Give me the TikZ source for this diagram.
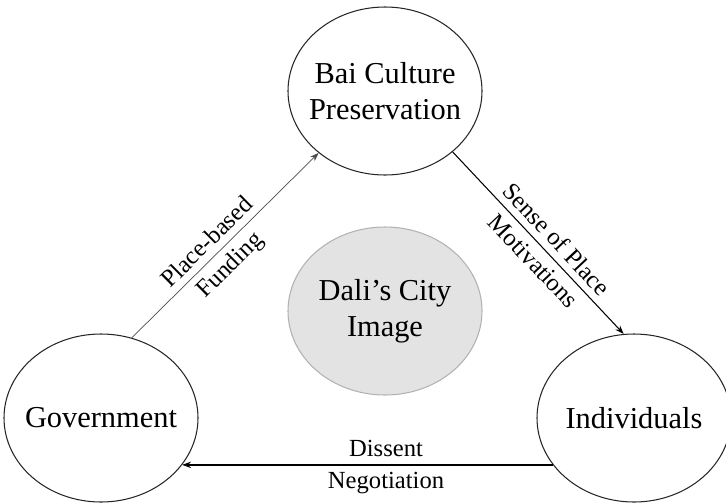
\documentclass[tikz,border=0pt]{standalone}
\usepackage{fontspec}
\setmainfont{Liberation Serif}
\usetikzlibrary{shapes, arrows.meta, positioning, calc}

\begin{document}
\begin{tikzpicture}[
  pnode/.style={draw=black!85, line width=0.6pt, ellipse, minimum width=3.88cm, minimum height=3.36cm, align=center, font=\fontsize{17.3}{20.5}\selectfont, inner xsep=-0.5cm, inner ysep=0pt},
  cnode/.style={pnode, draw=black!30, fill=black!11},
  flow/.style={-{Stealth[length=5pt, width=3.6pt]}, line width=0.6pt},
  lbl/.style={font=\fontsize{14}{16}\selectfont, inner sep=4pt, text=black}
]
  \useasboundingbox (0, 0) rectangle (14.52, 10.06);

  \node[pnode] (bai) at (7.70, 8.24) {Bai Culture\\Preservation};
  \node[pnode] (gov) at (2.02, 1.70) {Government};
  \node[pnode] (ind) at (12.68, 1.70) {Individuals};
  \node[cnode] (dali) at (7.70, 3.84) {Dali’s City\\Image};

  \draw[flow, line width=0.4pt, draw=black!70] (gov.69) -- (bai.223)
    node[lbl, sloped, above, pos=0.46] {Place-based}
    node[lbl, sloped, below, pos=0.46] {Funding};
  \draw[flow] (bai.318) -- (ind.97)
    node[lbl, sloped, above, pos=0.54] {Sense of Place}
    node[lbl, sloped, below, pos=0.54] {Motivations};
  \draw[flow, line width=0.8pt] (ind.210) -- (gov.330)
    node[lbl, above, pos=0.45] {Dissent}
    node[lbl, below, pos=0.45] {Negotiation};
\end{tikzpicture}
\end{document}
